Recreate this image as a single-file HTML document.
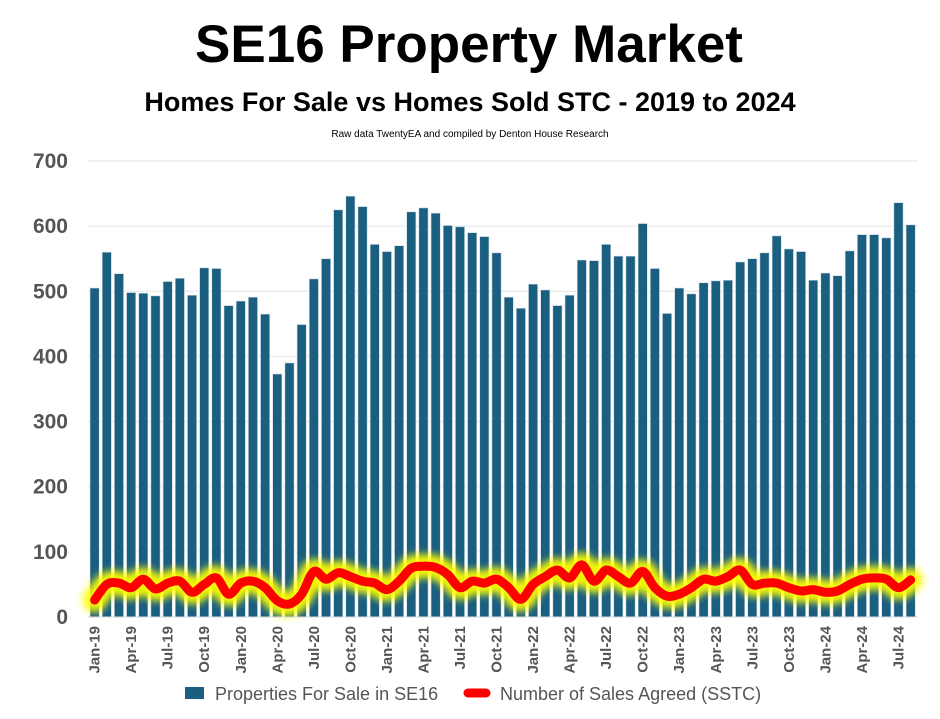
<!DOCTYPE html>
<html><head><meta charset="utf-8"><style>
body{margin:0;background:#fff;width:940px;height:714px;overflow:hidden;font-family:"Liberation Sans",sans-serif}
</style></head><body>
<svg id="c" width="940" height="714" xmlns="http://www.w3.org/2000/svg">
<defs><filter id="bl" x="-10%" y="-50%" width="120%" height="200%"><feGaussianBlur stdDeviation="4"/></filter></defs>
<text x="469" y="62" text-anchor="middle" font-family="Liberation Sans, sans-serif" font-weight="bold" font-size="53" fill="#000">SE16 Property Market</text>
<text x="470" y="111" text-anchor="middle" font-family="Liberation Sans, sans-serif" font-weight="bold" font-size="27" fill="#000">Homes For Sale vs Homes Sold STC - 2019 to 2024</text>
<text x="470" y="137" text-anchor="middle" font-family="Liberation Sans, sans-serif" font-size="10" fill="#000">Raw data TwentyEA and compiled by Denton House Research</text>
<g id="g"></g>
</svg>
<script>
var bars=[505,560,527,498,497,493,515,520,494,536,535,478,485,491,465,373,390,449,519,550,625,646,630,572,561,570,622,628,620,601,599,590,584,559,491,474,511,502,478,494,548,547,572,554,554,604,535,466,505,496,513,516,517,545,550,559,585,565,561,517,528,524,562,587,587,582,636,602];
var s=[26,50,52,45,58,43,52,55,38,50,60,35,52,55,45,25,20,35,70,58,68,62,55,52,42,55,75,78,76,65,45,55,52,58,45,27,50,62,72,60,80,55,72,62,52,70,45,32,35,45,58,55,62,72,50,52,52,45,40,42,38,40,50,58,60,58,45,57];
var y0=617,k=456/700,x0=90,dx=12.18,bw=9.2;
var h='';
for(var v=0;v<=700;v+=100){var y=y0-v*k;h+='<line x1="88" x2="918" y1="'+y+'" y2="'+y+'" stroke="#e4e4e4"/>';h+='<text x="68" y="'+(y+7)+'" text-anchor="end" font-weight="bold" font-size="21" fill="#555">'+v+'</text>';}
for(var i=0;i<bars.length;i++){var x=x0+i*dx,t=y0-bars[i]*k;h+='<rect x="'+x+'" y="'+t+'" width="'+bw+'" height="'+(y0-t)+'" fill="#1a5e80" stroke="#cfdde6" stroke-width="0.6"/>';}
var m=['Jan','Apr','Jul','Oct'];
for(var i=0;i<68;i+=3){var cx=x0+i*dx+bw/2+5;var lab=m[(i/3)%4]+'-'+(19+Math.floor(i/12));h+='<text transform="translate('+cx+',626) rotate(-90)" text-anchor="end" font-weight="bold" font-size="15" fill="#555">'+lab+'</text>';}
var p=s.map(function(v,i){return [x0+i*dx+bw/2,y0-v*k]});
var d='M'+p[0][0]+','+p[0][1];
for(var i=0;i<p.length-1;i++){var a=p[i-1]||p[i],b=p[i],c=p[i+1],e=p[i+2]||c;
d+=' C'+(b[0]+(c[0]-a[0])/6)+','+(b[1]+(c[1]-a[1])/6)+' '+(c[0]-(e[0]-b[0])/6)+','+(c[1]-(e[1]-b[1])/6)+' '+c[0]+','+c[1];}
h+='<path d="'+d+'" fill="none" stroke="#ffff00" stroke-width="24" stroke-linecap="round" stroke-linejoin="round" filter="url(#bl)" opacity="0.95"/>';
h+='<path d="'+d+'" fill="none" stroke="#ff0000" stroke-width="9" stroke-linecap="round" stroke-linejoin="round"/>';
h+='<line x1="88" x2="918" y1="617" y2="617" stroke="#d9d9d9"/>';
h+='<rect x="185" y="687" width="19" height="12" fill="#1a5e80"/><text x="215" y="700" font-size="18" fill="#555">Properties For Sale in SE16</text>';
h+='<line x1="468" x2="486" y1="693" y2="693" stroke="#ff0000" stroke-width="9" stroke-linecap="round"/><text x="500" y="700" font-size="18" fill="#555">Number of Sales Agreed (SSTC)</text>';
document.getElementById('g').innerHTML=h;
</script>
</body></html>
